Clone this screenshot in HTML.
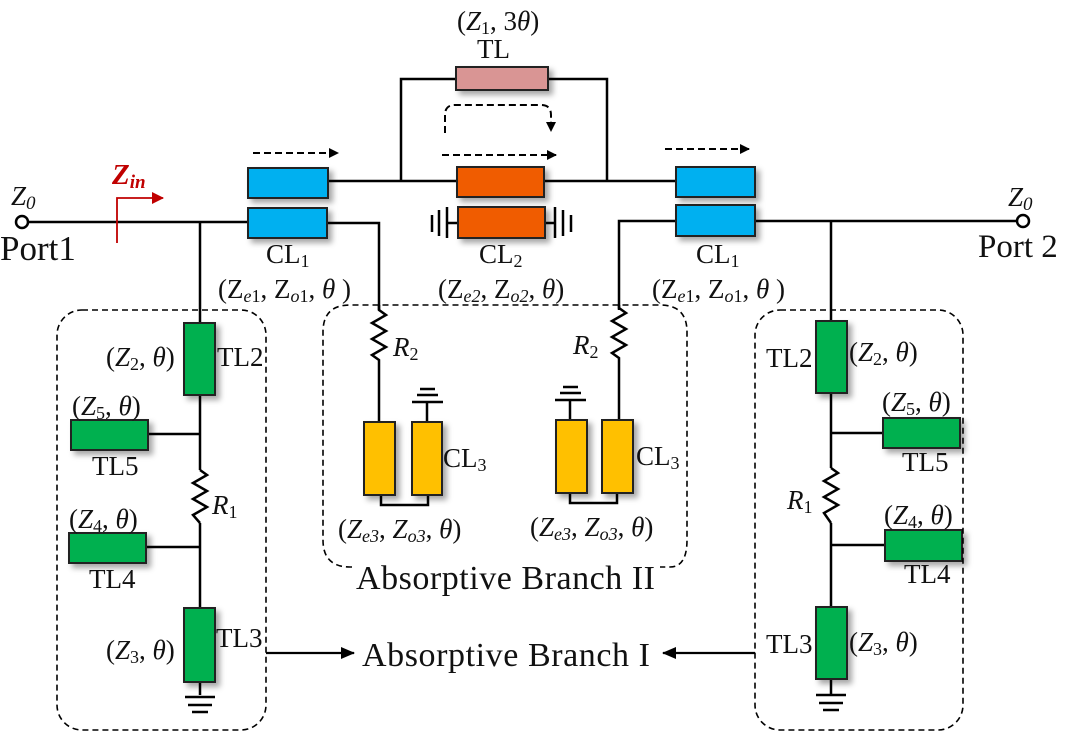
<!DOCTYPE html>
<html><head><meta charset="utf-8"><style>
html,body{margin:0;padding:0;background:#fff;}
svg{display:block;}
svg text{font-family:"Liberation Serif","Times New Roman",Times,serif !important;fill:#111;}
</style></head><body>
<svg width="1082" height="731" viewBox="0 0 1082 731" xmlns="http://www.w3.org/2000/svg" font-family="Liberation Serif, Times New Roman, serif">
<defs>
<filter id="sh" x="-30%" y="-30%" width="170%" height="170%">
<feDropShadow dx="4" dy="4" stdDeviation="3" flood-color="#000" flood-opacity="0.35"/>
</filter>
<marker id="ah" markerWidth="10" markerHeight="10" refX="9" refY="5" orient="auto" markerUnits="userSpaceOnUse">
<path d="M0,0 L10,5 L0,10 z" fill="#000"/></marker>
<marker id="ahr" markerWidth="12" markerHeight="12" refX="11" refY="6" orient="auto" markerUnits="userSpaceOnUse">
<path d="M0,0 L12,6 L0,12 z" fill="#c00000"/></marker>
<marker id="ahb" markerWidth="14" markerHeight="12" refX="13" refY="6" orient="auto" markerUnits="userSpaceOnUse">
<path d="M0,0 L14,6 L0,12 z" fill="#000"/></marker>
</defs>
<g stroke="#000" stroke-width="2.5" fill="none">
<line x1="28" y1="222" x2="248" y2="222"/>
<line x1="200" y1="222" x2="200" y2="695"/>
<line x1="328" y1="181" x2="676" y2="181"/>
<polyline points="401,181 401,79 456,79"/>
<polyline points="548,79 607,79 607,181"/>
<polyline points="327,223 379,223 379,310"/>
<polyline points="676,221 619,221 619,310"/>
<line x1="755" y1="221" x2="1017" y2="221"/>
<line x1="831" y1="221" x2="831" y2="695"/>
<line x1="458" y1="223" x2="447" y2="223"/>
<line x1="447" y1="207" x2="447" y2="238"/>
<line x1="439" y1="210" x2="439" y2="236"/>
<line x1="432" y1="215" x2="432" y2="232"/>
<line x1="545" y1="223" x2="555" y2="223"/>
<line x1="555" y1="207" x2="555" y2="238"/>
<line x1="563" y1="210" x2="563" y2="236"/>
<line x1="571" y1="215" x2="571" y2="232"/>
<polyline points="379,305 379,310 386,315 372,323 386,331 372,339 386,347 372,355 379,360 379,422"/>
<polyline points="619,305 619,308 626,313 612,321 626,329 612,337 626,345 612,353 619,358 619,420"/>
<polyline points="381,495 381,505 428,505 428,495"/>
<line x1="427" y1="403" x2="427" y2="422"/>
<line x1="412" y1="402" x2="443" y2="402"/>
<line x1="417" y1="395" x2="438" y2="395"/>
<line x1="420" y1="389" x2="435" y2="389"/>
<polyline points="570,493 570,503 617,503 617,493"/>
<line x1="570" y1="400" x2="570" y2="420"/>
<line x1="555" y1="400" x2="586" y2="400"/>
<line x1="560" y1="393" x2="581" y2="393"/>
<line x1="563" y1="387" x2="578" y2="387"/>
<line x1="148" y1="434" x2="200" y2="434"/>
<line x1="146" y1="547" x2="200" y2="547"/>
<line x1="185" y1="697" x2="215" y2="697"/>
<line x1="188" y1="705" x2="212" y2="705"/>
<line x1="192" y1="712" x2="208" y2="712"/>
<line x1="831" y1="433" x2="883" y2="433"/>
<line x1="831" y1="545" x2="885" y2="545"/>
<line x1="816" y1="695" x2="846" y2="695"/>
<line x1="819" y1="703" x2="843" y2="703"/>
<line x1="823" y1="710" x2="839" y2="710"/>
</g>
<rect x="190" y="470" width="20" height="53" fill="#fff"/>
<rect x="821" y="468" width="20" height="55" fill="#fff"/>
<g stroke="#000" stroke-width="2.5" fill="none">
<polyline points="200,470 207,475 193,483 207,491 193,499 207,507 193,515 200,523"/>
<polyline points="831,468 838,473 824,481 838,489 824,497 838,505 824,513 831,523"/>
</g>
<circle cx="22" cy="222" r="6" fill="#fff" stroke="#000" stroke-width="2.5"/>
<circle cx="1023" cy="221" r="6" fill="#fff" stroke="#000" stroke-width="2.5"/>
<g stroke="#222" stroke-width="2" filter="url(#sh)">
<rect x="456" y="67" width="92" height="23" fill="#d99594"/>
<rect x="248" y="168" width="80" height="30" fill="#00b0f0"/>
<rect x="248" y="208" width="79" height="30" fill="#00b0f0"/>
<rect x="676" y="167" width="79" height="30" fill="#00b0f0"/>
<rect x="676" y="205" width="79" height="31" fill="#00b0f0"/>
<rect x="457" y="167" width="87" height="30" fill="#f05c00"/>
<rect x="458" y="207" width="87" height="31" fill="#f05c00"/>
<rect x="364" y="422" width="31" height="73" fill="#ffc000"/>
<rect x="412" y="422" width="30" height="73" fill="#ffc000"/>
<rect x="556" y="420" width="31" height="73" fill="#ffc000"/>
<rect x="602" y="420" width="31" height="73" fill="#ffc000"/>
<rect x="184" y="323" width="31" height="72" fill="#00b050"/>
<rect x="71" y="420" width="77" height="30" fill="#00b050"/>
<rect x="69" y="533" width="77" height="30" fill="#00b050"/>
<rect x="184" y="608" width="31" height="74" fill="#00b050"/>
<rect x="816" y="321" width="31" height="72" fill="#00b050"/>
<rect x="883" y="418" width="77" height="30" fill="#00b050"/>
<rect x="885" y="530" width="77" height="31" fill="#00b050"/>
<rect x="816" y="607" width="31" height="72" fill="#00b050"/>
</g>
<g stroke="#000" stroke-width="1.6" fill="none" stroke-dasharray="6,4">
<rect x="57" y="310" width="209" height="420" rx="25"/>
<rect x="755" y="310" width="208" height="420" rx="25"/>
<path d="M352,567 L350,567 Q323,567 323,540 L323,332 Q323,305 350,305 L660,305 Q687,305 687,332 L687,540 Q687,567 670,567 L660,567"/>
</g>
<g stroke="#000" stroke-width="2" fill="none" stroke-dasharray="7,4">
<line x1="253" y1="153" x2="338" y2="153" marker-end="url(#ah)"/>
<line x1="442" y1="155" x2="556" y2="155" marker-end="url(#ah)"/>
<path d="M445,133 L445,115 Q445,105 455,105 L541,105 Q551,105 551,115 L551,131" marker-end="url(#ah)"/>
<line x1="665" y1="149" x2="749" y2="149" marker-end="url(#ah)"/>
</g>
<polyline points="117,243 117,198 163,198" stroke="#c00000" stroke-width="1.8" fill="none" marker-end="url(#ahr)"/>
<line x1="266" y1="653" x2="354" y2="653" stroke="#000" stroke-width="2.2" marker-end="url(#ahb)"/>
<line x1="755" y1="653" x2="663" y2="653" stroke="#000" stroke-width="2.2" marker-end="url(#ahb)"/>
<g font-size="27">
<text x="11" y="205"><tspan font-style="italic">Z</tspan><tspan font-style="italic" font-size="19" dy="4">0</tspan></text>
<text x="0" y="260" font-size="35">Port1</text>
<text x="112" y="184" font-size="29" font-weight="bold" font-style="italic" style="fill:#c00000">Z<tspan font-size="19" dy="4">in</tspan></text>
<text x="1008" y="206"><tspan font-style="italic">Z</tspan><tspan font-style="italic" font-size="19" dy="4">0</tspan></text>
<text x="978" y="257" font-size="33">Port 2</text>
<text x="457" y="30">(<tspan font-style="italic">Z</tspan><tspan font-size="18" dy="4">1</tspan><tspan dy="-4">, 3</tspan><tspan font-style="italic">θ</tspan>)</text>
<text x="477" y="58">TL</text>
<text x="266" y="263">CL<tspan font-size="18" dy="4">1</tspan></text>
<text x="218" y="298">(Z<tspan font-size="18" dy="4" font-style="italic">e</tspan><tspan font-size="18">1</tspan><tspan dy="-4">, Z</tspan><tspan font-size="18" dy="4" font-style="italic">o</tspan><tspan font-size="18">1</tspan><tspan dy="-4">, </tspan><tspan font-style="italic">θ</tspan> )</text>
<text x="479" y="263">CL<tspan font-size="18" dy="4">2</tspan></text>
<text x="438" y="298">(Z<tspan font-size="18" dy="4" font-style="italic">e2</tspan><tspan dy="-4">, Z</tspan><tspan font-size="18" dy="4" font-style="italic">o2</tspan><tspan dy="-4">, </tspan><tspan font-style="italic">θ</tspan>)</text>
<text x="696" y="263">CL<tspan font-size="18" dy="4">1</tspan></text>
<text x="652" y="298">(Z<tspan font-size="18" dy="4" font-style="italic">e</tspan><tspan font-size="18">1</tspan><tspan dy="-4">, Z</tspan><tspan font-size="18" dy="4" font-style="italic">o</tspan><tspan font-size="18">1</tspan><tspan dy="-4">, </tspan><tspan font-style="italic">θ</tspan> )</text>
<text x="393" y="356" font-style="italic">R<tspan font-size="18" dy="4" font-style="normal">2</tspan></text>
<text x="573" y="354" font-style="italic">R<tspan font-size="18" dy="4" font-style="normal">2</tspan></text>
<text x="443" y="467">CL<tspan font-size="18" dy="4">3</tspan></text>
<text x="636" y="465">CL<tspan font-size="18" dy="4">3</tspan></text>
<text x="338" y="538">(<tspan font-style="italic">Z</tspan><tspan font-size="18" dy="4" font-style="italic">e3</tspan><tspan dy="-4">, </tspan><tspan font-style="italic">Z</tspan><tspan font-size="18" dy="4" font-style="italic">o3</tspan><tspan dy="-4">, </tspan><tspan font-style="italic">θ</tspan>)</text>
<text x="530" y="536">(<tspan font-style="italic">Z</tspan><tspan font-size="18" dy="4" font-style="italic">e3</tspan><tspan dy="-4">, </tspan><tspan font-style="italic">Z</tspan><tspan font-size="18" dy="4" font-style="italic">o3</tspan><tspan dy="-4">, </tspan><tspan font-style="italic">θ</tspan>)</text>
<text x="356" y="589" font-size="34" textLength="299" lengthAdjust="spacing">Absorptive Branch II</text>
<text x="362" y="666" font-size="34" textLength="288" lengthAdjust="spacing">Absorptive Branch I</text>
<text x="106" y="366">(<tspan font-style="italic">Z</tspan><tspan font-size="18" dy="4">2</tspan><tspan dy="-4">, </tspan><tspan font-style="italic">θ</tspan>)</text>
<text x="217" y="366">TL2</text>
<text x="72" y="415">(<tspan font-style="italic">Z</tspan><tspan font-size="18" dy="4">5</tspan><tspan dy="-4">, </tspan><tspan font-style="italic">θ</tspan>)</text>
<text x="92" y="475">TL5</text>
<text x="212" y="514" font-style="italic">R<tspan font-size="18" dy="4" font-style="normal">1</tspan></text>
<text x="69" y="528">(<tspan font-style="italic">Z</tspan><tspan font-size="18" dy="4">4</tspan><tspan dy="-4">, </tspan><tspan font-style="italic">θ</tspan>)</text>
<text x="89" y="588">TL4</text>
<text x="106" y="659">(<tspan font-style="italic">Z</tspan><tspan font-size="18" dy="4">3</tspan><tspan dy="-4">, </tspan><tspan font-style="italic">θ</tspan>)</text>
<text x="216" y="647">TL3</text>
<text x="766" y="367">TL2</text>
<text x="849" y="361">(<tspan font-style="italic">Z</tspan><tspan font-size="18" dy="4">2</tspan><tspan dy="-4">, </tspan><tspan font-style="italic">θ</tspan>)</text>
<text x="882" y="411">(<tspan font-style="italic">Z</tspan><tspan font-size="18" dy="4">5</tspan><tspan dy="-4">, </tspan><tspan font-style="italic">θ</tspan>)</text>
<text x="902" y="471">TL5</text>
<text x="787" y="509" font-style="italic">R<tspan font-size="18" dy="4" font-style="normal">1</tspan></text>
<text x="884" y="524">(<tspan font-style="italic">Z</tspan><tspan font-size="18" dy="4">4</tspan><tspan dy="-4">, </tspan><tspan font-style="italic">θ</tspan>)</text>
<text x="904" y="583">TL4</text>
<text x="766" y="653">TL3</text>
<text x="849" y="651">(<tspan font-style="italic">Z</tspan><tspan font-size="18" dy="4">3</tspan><tspan dy="-4">, </tspan><tspan font-style="italic">θ</tspan>)</text>
</g>
</svg>
</body></html>
